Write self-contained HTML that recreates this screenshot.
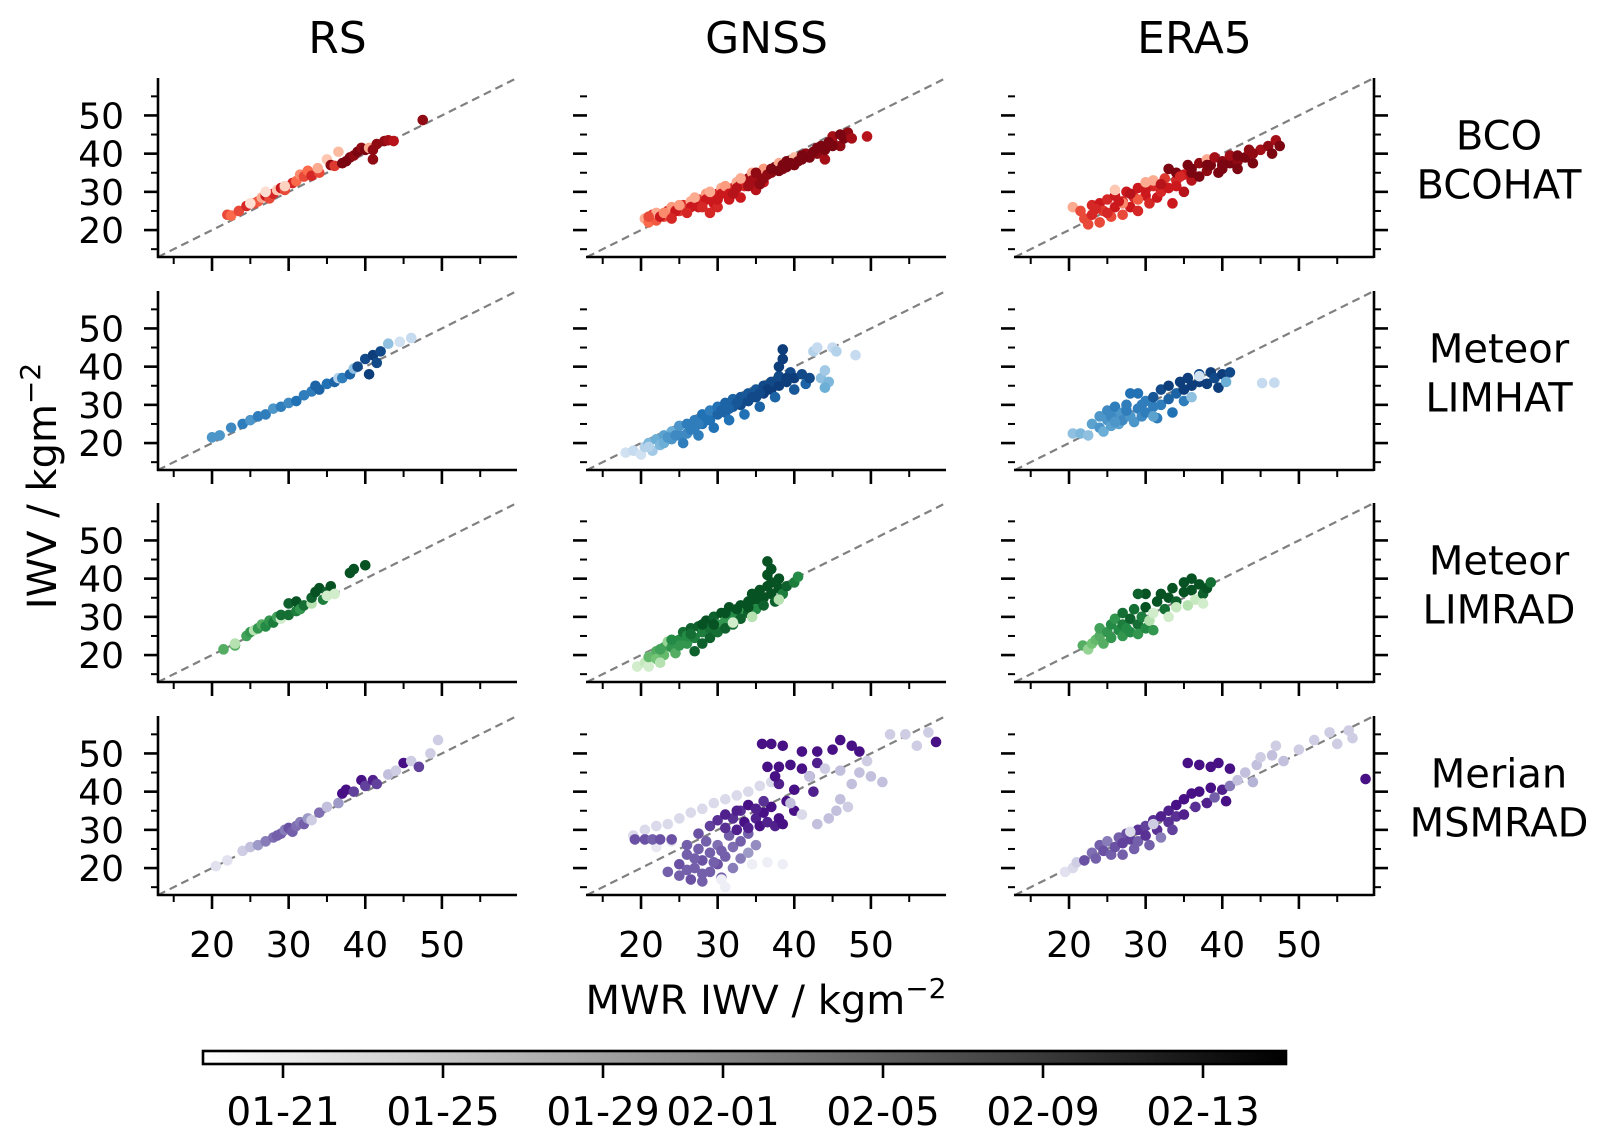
<!DOCTYPE html>
<html><head><meta charset="utf-8"><style>
html,body{margin:0;padding:0;background:#fff}
svg{display:block;font-family:"DejaVu Sans","Liberation Sans",sans-serif}
</style></head><body>
<svg id="fig" width="1607" height="1144" viewBox="0 0 1607 1144" xmlns="http://www.w3.org/2000/svg"></svg>
<script>
// ---- data ----
const colTitles = ["RS","GNSS","ERA5"];
const rowLabels = [["BCO","BCOHAT"],["Meteor","LIMHAT"],["Meteor","LIMRAD"],["Merian","MSMRAD"]];
const majorTicks = [20,30,40,50];
const minorTicks = [15,25,35,45,55];
const cbarLabels = ["01-21","01-25","01-29","02-01","02-05","02-09","02-13"];
const cbarDays = [0,4,8,11,15,19,23];
// [mwr, iwv, time fraction]
const bcoRS = [[22,24,.6],[22.5,23.8,.5],[23.5,25,.6],[24.5,26.3,.7],[25.5,27,.6],[26,27.5,.55],[26.5,28.5,.3],[27,29,.75],[27.5,28.3,.6],[28,29.5,.7],[28.5,30.5,.2],[29,31,.75],[29.5,30.5,.6],[30.5,32.3,.7],[31,32.8,.5],[31.5,34.5,.4],[32,34,.6],[32.5,35.5,.5],[33,34.2,.7],[34,35,.6],[33.8,36.2,.3],[35,38.5,.2],[35.5,37,.9],[36,36.8,.65],[36.5,40.5,.25],[37,37.5,.95],[37.5,38,.95],[38,39,.95],[38.5,39.5,.9],[39,40.5,.95],[39.5,41.5,.9],[40,41,.95],[40.5,41.5,.3],[41,41,.9],[41,38.5,.9],[41.5,42.5,.9],[42.5,43.3,.9],[43,43.5,.85],[43.7,43.3,.8],[47.5,48.8,.9],[27,30,.1],[29.5,31.5,.15],[25,27,.1]];
const bcoGNSS = [[20.5,23,.3],[21,22,.5],[21.5,24,.65],[22,22.5,.55],[22,24.5,.3],[23,23.5,.6],[23.5,25,.7],[24,24,.55],[24,26,.35],[25,25,.65],[25.5,26.5,.7],[26,25.5,.6],[26.5,27.5,.3],[27,26.5,.7],[27.5,28,.65],[28,27,.7],[28.5,29.5,.35],[29,28.5,.7],[29.5,27,.75],[30,29.5,.7],[30.5,31,.3],[31,30,.7],[31.5,28,.75],[32,31,.7],[32.5,32.5,.3],[33,32,.8],[33.5,31.5,.7],[34,33.5,.85],[34.5,35,.3],[35,33,.9],[35.5,34.5,.9],[36,36,.35],[36,32.5,.75],[37,35,.9],[37.5,36.5,.95],[38,37.5,.3],[38.5,36,.9],[39,38,.95],[40,37,.95],[40,39,.25],[41,38.5,.95],[41.5,40,.9],[42,39,.95],[43,40,.9],[43.5,42,.95],[44,38.5,.85],[44,41,.95],[45,43,.9],[45,44.5,.85],[46,42,.9],[46.5,44,.95],[47,45.5,.9],[47.5,44,.85],[49.5,44.5,.8],[30,26,.7],[33,28.5,.75],[35,30.5,.8],[29,24.5,.7],[22.5,23.5,.75],[24.5,25,.75],[26.5,26,.75],[28.5,28,.75],[30.5,29.5,.75],[32.5,31,.8],[34.5,33,.85],[36.5,34.5,.9],[38.5,37,.95],[40.5,38,.95],[42.5,40.5,.95],[21,23.5,.6],[23,24.5,.4],[25,26.5,.35],[27,28.5,.3],[29,30,.3],[31,31.5,.35],[33,33.5,.3],[35,35,.9],[37,36,.95],[39,36.5,.95],[41,39.5,.95],[43,41.5,.95],[45,42,.95],[27.5,26,.75],[31.5,29.5,.75],[35.5,32,.9],[39.5,37.5,.95],[44.5,43,.95],[46,45,.95],[24,23,.7],[26,24.5,.7],[28,26,.7],[30,28,.75],[32,29.5,.8],[34,31.5,.85],[36,33.5,.9],[38,35.5,.95]];
const bcoERA5 = [[20.5,26,.3],[21.5,25,.6],[22,23,.6],[22.5,21.5,.6],[23,26.5,.7],[23,24,.7],[24,27,.75],[24,22,.6],[24.5,25,.65],[25,28,.7],[25.5,23.5,.6],[26,26,.75],[26,29,.75],[27,27.5,.7],[27,24,.6],[27.5,30,.75],[28,26,.75],[28.5,28.5,.7],[29,31,.75],[29,25,.7],[30,29,.75],[30.5,27,.7],[31,31.5,.7],[31,33,.3],[31.5,28.5,.75],[32,30,.7],[32.5,33.5,.65],[33,31,.75],[33,36,.95],[33.5,27,.75],[34,33,.7],[34,35,.95],[35,34.5,.75],[35,30,.8],[35.5,37,.95],[36,33,.8],[36,36,.95],[37,37.5,.9],[37,34,.95],[38,35.5,.9],[38,38.5,.3],[38.5,37,.95],[39,39,.85],[39.5,35,.95],[40,36,.95],[40,38,.9],[41,37.5,.95],[41,39.5,.85],[42,38,.9],[42,36,.95],[43,39,.95],[43.5,41,.9],[44,37.5,.95],[45,41,.85],[46,42,.9],[47,43.5,.85],[47.5,42,.95],[46.5,40,.95],[26,30.5,.2],[29,28,.55],[27,27,.4],[23.5,25.5,.7],[25,24.5,.7],[26.5,27.5,.75],[28,29.5,.8],[30,30.5,.75],[32,32,.8],[34,31.5,.75],[36,35,.95],[38,37,.95],[40,37,.95],[42,39.5,.95],[44,40,.9],[30,32.5,.3],[34.5,34,.7]];
const limhatRS = [[20,21.5,.6],[21,22,.6],[24,25,.7],[25,26,.6],[26,27,.7],[27,27.5,.7],[28,29,.6],[29,29.5,.7],[30,30.5,.65],[31,31,.75],[32,32.5,.7],[33,33.5,.7],[34,34,.8],[35,35.5,.75],[36,36,.8],[36.5,37,.3],[37,37,.7],[38,38,.8],[38.5,39.5,.4],[39,40,.9],[40,42,.9],[41,43,.95],[41.5,41,.9],[40.5,38,.95],[42,44,.9],[43,46,.4],[44.5,46.5,.2],[46,47.5,.25],[22.5,24,.65],[33.5,35,.8]];
const limhatGNSS = [[18,17.5,.2],[19,18,.25],[20,17,.2],[20.5,19,.3],[21,20,.45],[21.5,18,.35],[22,21,.5],[22.5,19.5,.45],[23,22,.55],[23,20,.5],[24,21,.6],[24,23,.5],[25,22,.65],[25,24.5,.6],[25.5,20,.7],[26,25,.7],[26,22.5,.65],[27,24,.7],[27,26,.7],[27.5,22,.7],[28,25,.75],[28,27.5,.75],[29,26,.75],[29,28.5,.7],[29.5,24,.75],[30,27.5,.8],[30,29.5,.75],[31,28,.8],[31,30.5,.8],[31.5,26,.75],[32,29.5,.85],[32,31.5,.8],[33,30,.9],[33,32,.85],[33.5,27.5,.75],[34,31,.9],[34,33,.85],[35,32,.9],[35,34,.85],[35.5,29.5,.8],[36,33,.95],[36,35,.9],[37,34,.95],[37,36,.9],[37.5,32,.8],[38,35,.95],[38,37.5,.9],[38,40,.95],[38.5,42,.95],[38.5,44.5,.95],[39,36,.95],[39.5,38.5,.9],[40,34,.85],[40,37,.95],[41,38,.9],[41.5,35.5,.8],[42,37,.9],[42.5,44,.3],[43,45,.25],[43.5,37,.4],[44,39,.35],[44.5,36,.45],[45,45,.25],[45.5,44,.3],[44,34.5,.5],[48,43,.25],[21,19,.3],[23.5,21.5,.6],[24.5,22,.65],[26.5,23.5,.7],[28.5,26,.75],[30.5,28.5,.8],[32.5,30.5,.85],[34.5,32,.9],[36.5,34,.95],[39,37,.95],[27.5,25,.7],[31.5,29,.8],[35.5,33,.9]];
const limhatERA5 = [[20.5,22.5,.4],[21.5,22.5,.45],[22.5,22,.4],[23,25,.55],[24,24,.6],[24,27,.6],[24.5,23,.5],[25,26,.6],[25,28.5,.65],[25.5,24.5,.55],[26,27,.6],[26,29.5,.7],[26.5,25,.55],[27,28,.6],[27,26,.65],[27.5,30,.7],[28,27,.6],[28,33,.75],[28.5,25.5,.6],[29,29,.7],[29,33,.75],[29.5,27,.65],[30,28,.7],[30,31,.7],[31,29.5,.7],[31,32,.85],[31.5,26.5,.7],[32,30,.7],[32,34,.9],[33,31.5,.8],[33,35,.95],[33.5,28,.75],[34,33,.8],[34.5,36,.95],[35,31,.7],[35,34,.95],[35.5,37,.95],[36,35,.95],[36,32,.4],[37,36,.95],[37,38,.9],[38,35.5,.95],[38.5,38.5,.95],[39,37,.9],[39.5,34.5,.95],[40,38,.95],[41,38.5,.9],[40.5,36,.5],[37,37.5,.2],[45.2,35.7,.25],[46.8,35.8,.25],[31,27,.55],[25.5,27,.65],[27.5,28.5,.7],[29.5,30,.7],[26,25.5,.6]];
const limradRS = [[21.5,21.5,.6],[23,22.5,.6],[23,23,.3],[24.5,25,.65],[25,26,.7],[25.5,26.5,.3],[26,27,.7],[26.5,28,.6],[27,27.5,.75],[27.5,29,.7],[28,28.5,.8],[28.5,30,.65],[29,29.5,.2],[29,30.5,.85],[30,30.5,.85],[30,33.5,.9],[31,31.5,.8],[31,34,.95],[31.5,32,.7],[32,33,.85],[33,33.5,.3],[33,35,.9],[33.5,36.5,.95],[34,37.5,.95],[34.5,34.5,.8],[35,36.5,.9],[35.5,38,.95],[36,36,.2],[38,41.5,.95],[38.5,42.5,.95],[40,43.5,.95],[35,35.5,.2]];
const limradGNSS = [[19.5,17,.2],[20.5,18,.25],[21,17,.2],[21,19.5,.55],[22,21,.6],[22,19,.5],[23,22,.65],[23,20,.55],[23.5,23.5,.4],[24,22,.7],[24.5,20.5,.6],[25,24,.75],[25,22.5,.7],[25.5,26,.85],[26,23,.7],[26,25,.75],[26.5,27,.9],[27,24.5,.8],[27,21,.9],[27.5,27.5,.9],[28,26,.8],[28,23,.9],[28.5,29,.95],[29,27,.85],[29,24.5,.9],[29.5,30,.9],[30,28,.7],[30,26,.85],[30.5,31,.95],[31,29,.7],[31,27,.9],[31.5,32.5,.95],[32,30,.75],[32,28,.85],[33,33,.95],[33,31,.7],[33,29.5,.9],[34,34,.95],[34,31,.9],[34.5,36,.95],[35,34,.95],[35,32,.75],[35.5,37,.95],[36,35,.95],[36,33,.9],[36.5,38,.95],[36.5,41,.95],[36.5,44.5,.95],[37,36,.95],[37,42.5,.95],[37.5,34,.9],[38,37.5,.95],[38,40,.95],[38.5,36,.8],[39,38,.9],[40,39,.8],[40.5,40.5,.75],[32,28.5,.2],[34.5,30,.3],[38,34.5,.3],[22.5,18,.3],[29.5,28,.95],[31,31,.95],[32.5,32,.95],[34,32.5,.95],[35.5,35.5,.95],[37,39,.95],[28,28,.95],[26.5,25.5,.85],[24,24,.75],[22.5,21.5,.65]];
const limradERA5 = [[21.8,22.5,.6],[22.5,21.5,.4],[23,23,.5],[23.5,24,.55],[24,25,.6],[24,27,.65],[24.5,23,.6],[25,26,.7],[25.5,28,.75],[25.5,24.5,.7],[26,29.5,.7],[26.5,26.5,.75],[27,25,.7],[27,28,.8],[27,31,.85],[27.5,27,.75],[28,29.5,.9],[28,26,.75],[28.5,32,.85],[29,28,.85],[29,25.5,.7],[29.5,30,.8],[30,27,.75],[30,32.5,.95],[30.5,29,.3],[31,31,.2],[31,26.5,.7],[31.5,34,.95],[32,36,.95],[32.5,32,.85],[33,35,.95],[33,30,.2],[33.5,37.5,.95],[34,34,.9],[34,32.5,.25],[35,36.5,.95],[35,39,.95],[35.5,33,.3],[36,37,.95],[36,40,.95],[36.5,34.5,.25],[37,38.5,.95],[37.5,36,.9],[38,37.5,.95],[38.5,39,.85],[37.5,33.5,.2],[30,36,.95],[29,36,.9]];
const msmRS = [[20.5,20.5,.2],[22,22,.2],[24,24.5,.3],[25,25.5,.35],[26,26,.5],[27,27,.6],[28,28,.65],[28.5,28.5,.7],[29,29,.7],[29.5,30,.6],[30,30.5,.75],[30.5,29.5,.7],[31,31,.65],[31.5,32,.6],[32,31.5,.7],[32.5,33,.5],[33,32.5,.3],[34,34.5,.65],[35,36,.35],[36.5,37,.5],[37,39.5,.95],[37.5,40.5,.95],[38.5,40,.8],[39.5,43,.95],[40,41.5,.8],[41,43,.9],[41.5,42,.8],[43,44.5,.35],[44,45.5,.3],[45,47.5,.95],[46,48,.3],[47,46.5,.8],[48.5,50,.3],[49.5,53.5,.3]];
const msmGNSS = [[19,28.5,.25],[20.5,30,.25],[22,31,.25],[23.5,31.5,.25],[25,33,.25],[26.5,34.5,.25],[28,35.5,.25],[29.5,37,.25],[31,38,.25],[32.5,39,.25],[34,40,.25],[35.5,41.5,.25],[37,42.5,.25],[22,25.5,.15],[24,27,.15],[19.2,27.5,.75],[20.5,27.5,.75],[21.5,27.5,.7],[22.5,27.5,.75],[24,27.5,.75],[23.5,19,.7],[25,18,.7],[25,21,.75],[26,23.5,.7],[26.5,17,.75],[27,20,.7],[27.5,25,.7],[28,22,.75],[28,16.5,.7],[28.5,27,.7],[29,19,.7],[29,24,.7],[30,21,.75],[30,26,.65],[30.5,17.5,.7],[31,23,.7],[31.5,28.5,.7],[32,20,.6],[32,25.5,.65],[33,22.5,.6],[33,27,.7],[34,24,.5],[34,29,.7],[35,26,.55],[27.5,29,.75],[26,26,.7],[29,31,.8],[30,32.5,.85],[31,30.5,.85],[32,33,.85],[32.5,30,.9],[33,35,.85],[33.5,32,.95],[34,30.5,.9],[35,33,.9],[35.5,31,.95],[36,34.5,.95],[36.5,32,.9],[37,36,.95],[37.5,31,.9],[38,33,.95],[38.5,31.5,.95],[34,36.5,.95],[31,34,.9],[36,37.5,.85],[39,37.5,.95],[40,35,.95],[35.8,52.5,.95],[37,52.5,.95],[38.5,52,.95],[36.5,46.5,.95],[38,46.5,.95],[39.5,47,.95],[41,46,.95],[42,44,.95],[43,47.5,.9],[41,50.5,.95],[43,50.5,.95],[45,51,.95],[46,53.5,.95],[47.5,52,.95],[48.5,50.5,.95],[38,42,.9],[40,40.5,.95],[42.5,40,.9],[37.5,44,.95],[42,44,.35],[44,46,.3],[46,45.5,.35],[47.5,42,.35],[48.5,45,.35],[50,44,.35],[51.5,42.5,.35],[46,38,.35],[47,36,.3],[44.5,33,.35],[43,31.5,.35],[45.5,35,.35],[49.5,48,.3],[52.5,55,.3],[54.5,55,.3],[57.5,55.5,.3],[56,52,.3],[58.5,53,.95],[39.5,37,.35],[41,34,.25],[34.5,21,.1],[36.5,21.5,.1],[38.5,21,.1],[31,15,.1],[30.5,17,.1],[26,19.5,.7],[27,22.5,.7],[29.5,21.5,.7],[30.5,24.5,.7],[28,18.5,.7],[32.5,35,.9],[35,35.5,.9]];
const msmERA5 = [[19.5,19,.2],[20.5,20,.25],[21,21.5,.3],[22,22,.75],[23,24,.65],[23.5,22.5,.7],[24,26,.7],[24.5,24.5,.75],[25,27,.6],[25.5,23.5,.7],[26,25.5,.75],[26.5,28,.7],[27,26.5,.8],[27,23.5,.7],[27.5,29,.75],[28,27.5,.8],[28.5,25,.7],[29,30,.85],[29,27,.7],[30,31,.8],[30,28.5,.85],[30.5,26,.7],[31,32.5,.85],[31.5,30,.85],[32,33.5,.9],[32,28,.6],[33,32,.85],[33,35,.9],[33.5,30,.8],[34,36.5,.95],[34,33.5,.85],[35,38,.95],[35,34,.9],[35.5,47.5,.95],[37,47,.95],[38.5,46.5,.95],[39.5,47.5,.95],[36,39.5,.95],[36.5,36,.85],[37,40,.95],[38,37,.9],[38.5,41,.95],[39,38.5,.7],[40,40.5,.9],[40.5,37.5,.95],[41,41.5,.6],[41,46,.95],[42,43,.35],[43,45,.35],[44,42.5,.4],[44.5,47,.35],[45,49,.3],[46.5,49.5,.35],[47,52,.3],[48,48,.35],[50,51,.3],[52,53.5,.3],[54,55.5,.3],[55,52.5,.3],[56.5,56,.3],[57,54,.3],[58.7,43.3,.95],[28,29.5,.25],[31,31.5,.3]];
const panelData = [[bcoRS,bcoGNSS,bcoERA5],[limhatRS,limhatGNSS,limhatERA5],[limradRS,limradGNSS,limradERA5],[msmRS,msmGNSS,msmERA5]];

// ---- layout ----
const NS="http://www.w3.org/2000/svg";
const svg=document.getElementById('fig');
const lefts=[158,587,1015], bottoms=[257,470,682,895], W=359, H=179;
const LO=12.95, HI=59.8;
const sx=(c,v)=>lefts[c]+(v-LO)/(HI-LO)*W;
const sy=(r,v)=>bottoms[r]-(v-LO)/(HI-LO)*H;
const cmaps=[
 ["#fff5f0","#fcbba1","#fb6a4a","#cb181d","#67000d"],
 ["#f7fbff","#c6dbef","#6baed6","#2171b5","#08306b"],
 ["#f7fcf5","#c7e9c0","#74c476","#238b45","#00441b"],
 ["#fcfbfd","#dadaeb","#9e9ac8","#6a51a3","#3f007d"]];
function hex(h){return [1,3,5].map(i=>parseInt(h.substr(i,2),16));}
function cmap(r,t){const s=cmaps[r];const p=Math.min(.9999,Math.max(0,t))*4;const i=Math.floor(p),f=p-i;
 const a=hex(s[i]),b=hex(s[i+1]);return 'rgb('+a.map((v,k)=>Math.round(v+(b[k]-v)*f)).join(',')+')';}
function mk(tag,attrs,parent){const e=document.createElementNS(NS,tag);for(const k in attrs)e.setAttribute(k,attrs[k]);(parent||svg).appendChild(e);return e;}
function txt(s,x,y,size,anchor,parent){const t=mk('text',{x:x,y:y,'font-size':size,'text-anchor':anchor||'middle',fill:'#000'},parent);t.textContent=s;return t;}

for(let r=0;r<4;r++){for(let c=0;c<3;c++){
 const g=mk('g',{});
 
 
 const L=lefts[c],B=bottoms[r],T=B-H,R=L+W;
 const dl=mk('line',{x1:sx(c,LO),y1:sy(r,LO),x2:sx(c,HI),y2:sy(r,HI),stroke:'#808080','stroke-width':2.2,'stroke-dasharray':'8,5'},g);
 
 
 const pts=panelData[r][c];
 pts.forEach(p=>{
  const ci=mk('circle',{cx:sx(c,p[0]),cy:sy(r,p[1]),r:5.3,fill:cmap(r,p[2])},g);
  
  
 });
 mk('line',{x1:L-1,y1:B,x2:R,y2:B,stroke:'#000','stroke-width':2.6},g);
 if(c===0) mk('line',{x1:L,y1:T,x2:L,y2:B+1,stroke:'#000','stroke-width':2.6},g);
 if(c===2) mk('line',{x1:R,y1:T,x2:R,y2:B+1,stroke:'#000','stroke-width':2.6},g);
 majorTicks.forEach(v=>{const x=sx(c,v);mk('line',{x1:x,y1:B,x2:x,y2:B+14,stroke:'#000','stroke-width':2.6},g);
   if(r===3){const t=txt(String(v),x,957,36,'middle',g);}});
 minorTicks.forEach(v=>{const x=sx(c,v);mk('line',{x1:x,y1:B,x2:x,y2:B+7,stroke:'#000','stroke-width':2});});
 majorTicks.forEach(v=>{const y=sy(r,v);mk('line',{x1:L-14,y1:y,x2:L,y2:y,stroke:'#000','stroke-width':2.6},g);
   if(c===0){const t=txt(String(v),L-34,y+13,36,'end',g);}});
 minorTicks.forEach(v=>{const y=sy(r,v);mk('line',{x1:L-7,y1:y,x2:L,y2:y,stroke:'#000','stroke-width':2},g);});
 if(c===2){
  majorTicks.forEach(v=>{const y=sy(r,v);mk('line',{x1:R,y1:y,x2:R+14,y2:y,stroke:'#000','stroke-width':2.6},g);});
  minorTicks.forEach(v=>{const y=sy(r,v);mk('line',{x1:R,y1:y,x2:R+7,y2:y,stroke:'#000','stroke-width':2},g);});
 }
}}
colTitles.forEach((s,c)=>{const t=txt(s,lefts[c]+W/2,53,44);
 
 });
rowLabels.forEach((pair,r)=>{const cy=bottoms[r]-H/2;
 const t1=txt(pair[0],1499,cy-18,40);
 
 
 const t2=txt(pair[1],1499,cy+31,40);
 
 });
const yl=mk('text',{x:0,y:0,'font-size':40,'text-anchor':'middle',transform:'translate(56,486) rotate(-90)'});


yl.innerHTML='IWV / kgm<tspan dy="-16" font-size="28">−2</tspan>';
const xl=mk('text',{x:766,y:1014,'font-size':40,'text-anchor':'middle'});


xl.innerHTML='MWR IWV / kgm<tspan dy="-16" font-size="28">−2</tspan>';
const defs=mk('defs',{});
const lg=mk('linearGradient',{id:'gg',x1:0,y1:0,x2:1,y2:0},defs);
mk('stop',{offset:0,'stop-color':'#ffffff'},lg);mk('stop',{offset:1,'stop-color':'#000000'},lg);
const cb=mk('rect',{x:203,y:1051,width:1083,height:13,fill:'url(#gg)',stroke:'#000','stroke-width':2.6});


cbarLabels.forEach((s,i)=>{const x=283+40*cbarDays[i];
 mk('line',{x1:x,y1:1064,x2:x,y2:1078,stroke:'#000','stroke-width':2.6});
 const t=txt(s,x,1125,39);
 
 });
</script>
</body></html>
